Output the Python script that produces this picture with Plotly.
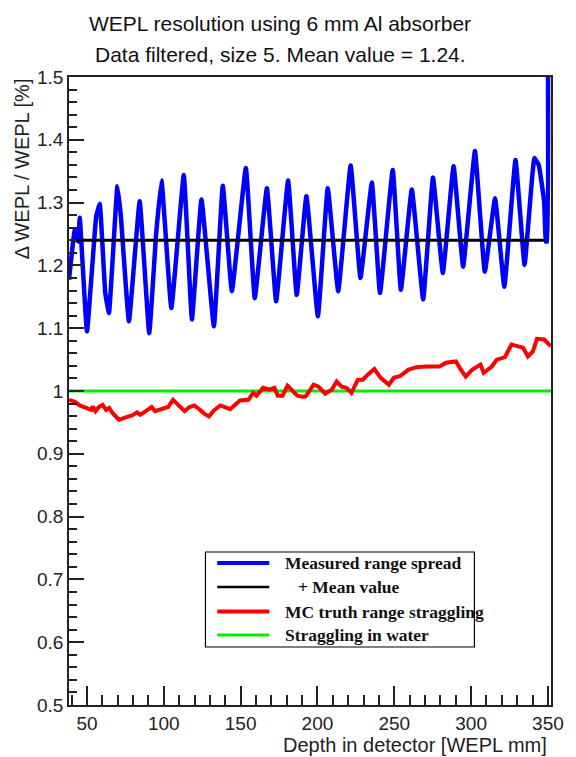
import plotly.graph_objects as go

# Measured range spread (Delta WEPL / WEPL in %) vs. depth
depth_meas = [38.3, 42.1, 44.3, 45.3, 50.0, 56.0, 58.3, 61.9, 64.3, 69.8, 72.0, 77.3,
              84.3, 90.5, 95.0, 98.5, 104.9, 113.0, 118.3, 124.5, 132.6, 138.4, 144.3,
              153.4, 159.2, 167.1, 173.1, 180.9, 186.5, 192.8, 200.3, 206.7, 213.5,
              221.6, 228.0, 235.4, 240.7, 249.0, 254.3, 261.4, 268.8, 275.2, 281.6,
              288.6, 294.8, 302.5, 308.9, 315.6, 321.6, 328.9, 334.8, 341.2, 344.0,
              347.6, 348.6, 349.4, 350.0]
spread_meas = [1.177, 1.257, 1.238, 1.276, 1.095, 1.278, 1.298, 1.156, 1.124, 1.326, 1.280, 1.111,
               1.302, 1.092, 1.250, 1.335, 1.132, 1.344, 1.114, 1.305, 1.103, 1.327, 1.159,
               1.355, 1.148, 1.323, 1.143, 1.335, 1.153, 1.310, 1.119, 1.323, 1.159,
               1.359, 1.180, 1.332, 1.156, 1.352, 1.161, 1.321, 1.146, 1.340, 1.188,
               1.358, 1.198, 1.382, 1.190, 1.307, 1.166, 1.368, 1.201, 1.371, 1.360,
               1.300, 1.238, 1.238, 1.550]

# Mean of the measured spread
mean_value = 1.24
mean_depth = [42.0, 348.0]

# Monte Carlo truth range straggling
depth_mc = [38.3, 42.1, 45.3, 49.6, 52.8, 53.8, 55.6, 57.7, 60.2, 62.4, 64.5, 66.6, 70.9,
            75.2, 79.4, 82.6, 84.7, 89.0, 92.1, 94.3, 98.5, 102.8, 106.0, 109.2, 113.5,
            116.7, 119.9, 123.1, 126.3, 129.4, 132.6, 136.8, 140.0, 143.2, 146.4, 149.6,
            155.0, 158.2, 160.3, 164.6, 168.8, 172.0, 174.2, 177.3, 180.5, 183.7, 186.9,
            190.1, 192.4, 197.5, 200.7, 205.0, 209.3, 212.5, 215.7, 218.9, 222.1, 226.3,
            229.5, 232.7, 237.0, 241.2, 246.5, 249.7, 254.0, 259.3, 264.6, 271.0, 279.5,
            283.7, 290.1, 293.3, 296.5, 300.8, 306.1, 308.2, 313.5, 316.7, 322.0, 326.3,
            330.6, 333.8, 337.0, 340.2, 342.9, 347.6, 351.9]
straggling_mc = [0.986, 0.983, 0.977, 0.973, 0.970, 0.9755, 0.968, 0.9745, 0.978, 0.970, 0.973, 0.965, 0.954,
                 0.958, 0.961, 0.966, 0.962, 0.969, 0.9745, 0.968, 0.971, 0.9745, 0.986, 0.978, 0.968,
                 0.9745, 0.977, 0.971, 0.964, 0.9596, 0.969, 0.977, 0.9745, 0.971, 0.978, 0.985,
                 0.986, 0.997, 0.9925, 1.005, 1.002, 1.005, 0.9925, 0.9925, 1.0085, 1.001, 0.9925,
                 0.991, 0.9914, 1.010, 1.007, 0.9957, 1.002, 1.015, 1.007, 1.005, 0.997, 1.018,
                 1.018, 1.026, 1.035, 1.021, 1.010, 1.021, 1.024, 1.034, 1.038, 1.039, 1.039,
                 1.045, 1.047, 1.034, 1.023, 1.034, 1.042, 1.029, 1.039, 1.050, 1.054, 1.074,
                 1.072, 1.069, 1.055, 1.063, 1.083, 1.082, 1.071]

# Straggling in water reference
water_value = 1.0
water_depth = [38.3, 352.0]

# Axis ticks
x_tick_vals = [50, 100, 150, 200, 250, 300, 350]
x_tick_text = ["50", "100", "150", "200", "250", "300", "350"]
y_tick_vals = [0.5, 0.6, 0.7, 0.8, 0.9, 1.0, 1.1, 1.2, 1.3, 1.4, 1.5]
y_tick_text = ["0.5", "0.6", "0.7", "0.8", "0.9", "1", "1.1", "1.2", "1.3", "1.4", "1.5"]

legend_labels = ["Measured range spread", "+ Mean value",
                 "MC truth range straggling", "Straggling in water"]
legend_colors = ["#0000ff", "#000000", "#ff0000", "#00ee00"]
legend_widths = [4, 2.5, 4, 3]

# Canvas geometry (pixels)
W, H = 576, 757
L, R, T, B = 69, 16, 77, 52
PW, PH = W - L - R, H - T - B


def px(xp):
    return (xp - L) / PW


def py(yp):
    return (H - B - yp) / PH


SANS = "Liberation Sans, Arial, sans-serif"
SERIF = "Liberation Serif, Times New Roman, serif"

fig = go.Figure()
fig.add_trace(go.Scatter(x=depth_meas, y=spread_meas, mode="lines",
                         line=dict(color="#0000ff", width=4.5, shape="spline", smoothing=0.3),
                         name=legend_labels[0]))
fig.add_trace(go.Scatter(x=mean_depth, y=[mean_value] * len(mean_depth), mode="lines",
                         line=dict(color="#000000", width=3), name=legend_labels[1]))
fig.add_trace(go.Scatter(x=water_depth, y=[water_value] * len(water_depth), mode="lines",
                         line=dict(color="#00ee00", width=3), name=legend_labels[3]))
fig.add_trace(go.Scatter(x=depth_mc, y=straggling_mc, mode="lines",
                         line=dict(color="#ff0000", width=4), name=legend_labels[2]))

axis_common = dict(showline=True, mirror=True, linecolor="#222", linewidth=1.5,
                   showgrid=False, zeroline=False, ticks="inside", tickcolor="#222",
                   tickwidth=1.5, tickfont=dict(family=SANS, size=19, color="#222"))

fig.update_xaxes(range=[38.3, 352.0], tickvals=x_tick_vals, ticktext=x_tick_text,
                 ticklen=19, ticklabelstandoff=0,
                 minor=dict(dtick=10, tick0=0, ticklen=10, ticks="inside",
                            tickcolor="#222", tickwidth=1.5),
                 **axis_common)
fig.update_yaxes(range=[0.5, 1.5], tickvals=y_tick_vals, ticktext=y_tick_text,
                 ticklen=15,
                 minor=dict(dtick=0.02, tick0=0.5, ticklen=8, ticks="inside",
                            tickcolor="#222", tickwidth=1.5),
                 **axis_common)

annotations = [
    dict(text="WEPL resolution using 6 mm Al absorber", x=px(284), y=py(23.5),
         xanchor="center", yanchor="middle", font=dict(family=SANS, size=21, color="#111")),
    dict(text="Data filtered, size 5. Mean value = 1.24.", x=px(284), y=py(54.5),
         xanchor="center", yanchor="middle", font=dict(family=SANS, size=21, color="#111")),
    dict(text="Depth in detector [WEPL mm]", x=px(558), y=py(745.5),
         xanchor="right", yanchor="middle", font=dict(family=SANS, size=20, color="#222")),
    dict(text="\u0394 WEPL / WEPL [%]", x=px(22), y=py(76), textangle=-90,
         xanchor="center", yanchor="top", font=dict(family=SANS, size=20, color="#222")),
]

shapes = [dict(type="rect", xref="paper", yref="paper", x0=px(208), x1=px(482),
               y0=py(647), y1=py(552), line=dict(color="#000", width=1.2),
               fillcolor="white", layer="above")]

row_y = [563, 587, 611.5, 635]
text_x = [287, 300, 287, 287]
for label, color, lw, ry, tx in zip(legend_labels, legend_colors, legend_widths, row_y, text_x):
    shapes.append(dict(type="line", xref="paper", yref="paper", x0=px(220), x1=px(273),
                       y0=py(ry), y1=py(ry), line=dict(color=color, width=lw), layer="above"))
    annotations.append(dict(text="<b>" + label + "</b>", x=px(tx), y=py(ry),
                            xanchor="left", yanchor="middle",
                            font=dict(family=SERIF, size=17.5, color="#111")))

for a in annotations:
    a.update(xref="paper", yref="paper", showarrow=False)

fig.update_layout(width=W, height=H, margin=dict(l=L, r=R, t=T, b=B),
                  paper_bgcolor="white", plot_bgcolor="white", showlegend=False,
                  annotations=annotations, shapes=shapes)

fig.write_html("out.html")
